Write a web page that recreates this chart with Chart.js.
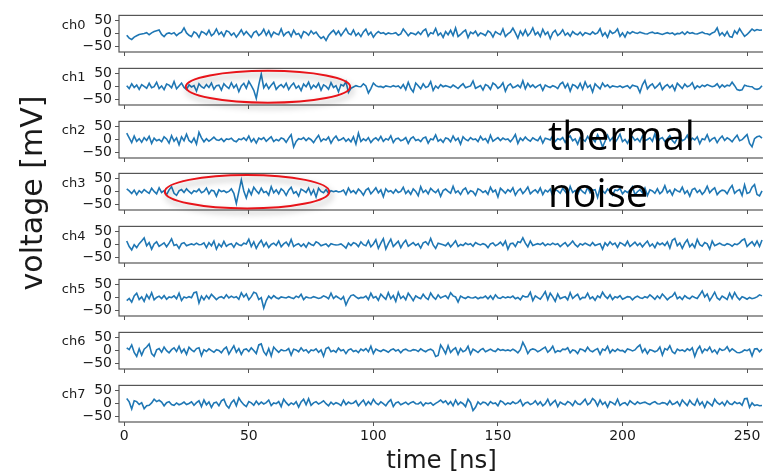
<!DOCTYPE html>
<html>
<head>
<meta charset="utf-8">
<script src="https://cdn.jsdelivr.net/npm/chart.js@4.4.1/dist/chart.umd.min.js"></script>
<style>
  html, body { margin: 0; padding: 0; background: #fff; overflow: hidden; }
  #wrap { position: relative; width: 763px; height: 474px; overflow: hidden; background: #fff; }
  canvas { position: absolute; left: 0; }
  .lbl { position: absolute; font-family: "DejaVu Sans", sans-serif; color: #1a1a1a; line-height: 1; white-space: nowrap; }
  .big { position: absolute; font-family: "Open Sans", sans-serif; color: #000; font-size: 40px; line-height: 1; white-space: nowrap; }
</style>
</head>
<body>
<div id="wrap"></div>
<script>
// ---------- data (mV), one sample per ns starting at t = 1 ns ----------
const channelNames = ['ch0', 'ch1', 'ch2', 'ch3', 'ch4', 'ch5', 'ch6', 'ch7'];

const ch0 = [
 -6,-17,-22,-13,-8,-3,-1,1,4,-4,3,8,11,14,-3,-11,
 0,3,-1,4,-7,1,6,22,3,-6,-11,7,1,-14,8,4,
 -4,13,-8,0,18,-3,6,-10,11,7,-6,3,-13,0,15,-4,
 8,-3,-14,4,10,-7,1,17,-6,11,-11,6,0,-4,18,-8,
 3,7,-10,13,-3,1,-15,8,4,-6,11,-1,6,-8,-18,-11,
 -26,-7,4,13,-3,10,-8,6,20,1,-4,14,-7,3,-11,7,
 17,-4,6,-13,0,8,1,4,-3,3,0,1,4,-6,-1,18,
 6,-8,3,1,-4,7,-3,11,18,-10,4,0,20,-6,3,-14,
 8,-4,13,-7,22,-11,-3,7,14,-15,6,0,10,-8,3,-1,
 -7,11,4,-13,8,1,-4,18,-11,-1,6,21,3,-17,10,-6,
 14,-8,3,22,-4,6,-11,17,-3,7,-19,4,13,-7,1,15,
 -6,3,-10,8,0,-4,6,-7,4,1,-3,7,-1,3,19,-8,
 4,-14,11,1,6,18,-10,3,-13,7,0,8,4,1,6,3,
 0,-1,4,6,1,3,0,-3,1,4,0,3,-4,1,0,6,
 -3,7,1,4,0,-1,3,6,1,0,-4,3,7,22,-6,4,
 -8,8,-11,-14,11,0,19,4,-10,-3,7,18,11,16,13,14
];
const ch1 = [
 4,-7,11,-3,6,-10,8,1,-6,13,-4,0,17,-7,3,-11,
 10,6,-4,20,-8,3,14,-3,-11,7,-1,4,-17,11,0,-6,
 8,-3,14,-10,4,6,-13,11,1,-7,15,-4,8,-19,3,13,
 -6,20,4,-14,-45,7,48,-4,11,-8,6,17,-10,1,8,-3,
 13,-11,4,14,-6,3,-15,10,0,17,-8,6,-3,13,-13,7,
 1,-10,15,-3,4,-19,8,3,19,-22,-6,-1,4,1,0,11,
 3,-24,-7,14,4,0,1,-3,3,1,-1,4,0,3,-6,8,
 -11,17,-7,-20,14,4,-8,11,-3,1,19,-14,3,-6,8,0,
 4,1,-3,6,0,-7,3,11,-4,0,3,22,-6,-1,4,-13,
 8,3,-10,14,7,-6,1,15,-17,4,11,-4,0,6,-3,23,
 -8,13,-1,7,-4,3,8,-14,6,1,-3,4,0,-7,10,17,
 -4,11,-17,8,4,-6,13,-10,18,-3,6,-20,11,1,-8,14,
 0,7,-4,3,1,-1,3,-3,1,4,-6,6,3,0,-22,7,
 24,-8,4,11,-6,3,14,-11,1,8,-4,6,-14,13,3,-7,
 10,0,4,15,-8,3,-3,6,1,8,4,0,3,11,-4,7,
 -1,6,3,17,4,-11,-14,-12,6,3,1,0,-8,-10,-7,4
];
const ch2 = [
 25,7,-11,14,-6,4,-10,8,-3,13,-14,6,-4,1,-8,11,
 3,-13,15,-6,7,-19,11,-4,21,-3,-11,6,-17,28,7,-8,
 4,-6,1,10,0,-3,4,-7,3,1,6,-4,-8,3,0,7,
 -3,14,-8,4,-13,6,1,8,-6,3,11,-7,1,-4,7,3,
 -10,6,19,-28,-7,4,1,8,-3,6,0,-11,4,17,-6,3,
 -1,10,-13,4,14,-3,1,7,-6,3,-8,11,-17,25,-7,3,
 -4,8,-11,1,7,-3,13,-6,4,-1,15,-11,3,6,-4,0,
 8,-14,4,11,-3,1,-7,6,10,-13,3,0,18,-6,1,-10,
 7,4,-8,14,-3,6,-17,11,1,-4,8,0,3,-7,13,-1,
 4,-11,17,-6,1,8,-3,6,0,3,-8,4,20,-14,6,-3,
 10,0,-6,7,1,-4,11,-13,6,3,-1,15,-7,4,0,8,
 -10,6,14,-4,3,-17,8,1,-6,13,-3,4,-8,19,0,-28,
 -6,17,-4,8,-11,3,21,-7,1,-14,6,11,-3,4,-8,14,
 -4,1,7,-6,23,-11,3,8,-7,4,15,-3,-13,6,10,-4,
 1,17,-8,6,-1,11,-15,4,0,19,-6,3,8,-11,4,14,
 -3,7,1,-8,6,17,-4,0,10,20,-14,-27,4,11,14,6
];
const ch3 = [
 11,3,-7,6,-11,4,-4,8,0,-6,13,1,-8,15,-3,4,
 -11,7,19,-6,-14,3,8,-3,11,1,-7,4,0,10,-4,1,
 14,-8,6,3,-17,7,0,4,-3,1,11,-6,-45,0,45,3,
 -24,8,-11,17,4,-7,13,-3,1,-13,19,-4,7,-8,11,3,
 -14,6,17,-6,0,-17,10,4,-3,14,-11,7,-20,13,1,-4,
 8,-6,4,0,3,-1,1,6,-11,14,-3,4,-7,10,1,-13,
 6,13,-8,3,15,-4,7,-19,11,0,4,-6,8,-3,1,17,
 -7,4,-10,11,1,-15,19,-3,6,-8,13,3,-4,8,-18,4,
 10,1,-6,21,-4,3,-11,7,14,-8,4,0,-14,11,6,-3,
 3,-10,17,-1,6,-20,13,4,-6,8,0,15,-13,3,11,-7,
 4,18,-8,1,7,-4,14,-11,6,-1,10,-17,8,3,-6,13,
 1,-14,20,-3,4,-10,11,0,-7,17,-4,6,8,-22,14,3,
 -6,10,1,-13,7,4,13,-8,3,-3,6,19,-11,0,8,-4,
 14,-15,7,3,-6,11,-8,1,23,-4,6,-13,10,3,-1,17,
 -7,4,-17,8,13,-3,6,-10,1,21,-4,7,15,-11,0,6,
 4,-8,11,24,-6,3,8,-14,26,-7,-3,17,27,-11,-16,3
];
const ch4 = [
 14,-7,-20,0,-11,4,14,26,-4,8,-17,3,11,-6,0,7,
 -8,6,22,-3,1,-14,4,8,-4,0,3,-1,6,0,1,7,
 -11,8,-4,14,-17,3,-8,13,-6,1,4,-10,7,0,-3,6,
 3,21,-7,11,-14,4,17,-6,8,-11,1,6,-3,14,-8,3,
 10,-4,20,-7,0,4,-6,3,-10,8,1,-3,11,6,-4,0,
 3,-7,4,1,-1,0,3,-4,-13,6,-3,8,4,-7,11,0,
 -4,15,-8,3,19,-14,6,23,-17,4,21,-7,3,13,-11,6,
 17,-6,1,8,-3,4,-13,7,11,0,24,-1,-14,6,3,0,
 -4,7,-8,3,15,-7,1,-3,6,0,4,-6,8,3,-1,4,
 0,-11,3,7,-4,1,10,-3,14,-17,4,6,-7,11,8,26,
 6,-8,14,-3,1,4,0,7,-4,3,-1,6,0,4,-7,1,
 8,-6,3,14,0,-8,4,-1,6,1,-4,8,-3,1,4,-17,
 7,-4,11,0,6,-10,8,3,-4,13,-7,1,10,-3,6,-8,
 4,14,-6,3,-11,8,0,6,-3,11,-13,17,24,-4,7,-14,
 6,19,-8,3,-11,20,0,-6,8,3,-17,14,-4,1,6,0,
 -3,4,1,-6,3,0,7,17,22,-7,3,11,-4,14,-7,18
];
const ch5 = [
 -11,-3,-17,7,17,-7,3,-14,11,-4,19,-8,1,6,-3,8,
 -6,3,0,7,-4,17,-11,3,-1,4,0,19,22,-20,6,-8,
 8,-4,13,3,-7,1,4,-3,11,-1,6,0,4,-6,19,3,
 14,-8,4,21,17,-7,0,-40,-11,6,-3,8,0,-4,3,1,
 -1,4,0,-3,6,1,13,-7,3,0,-1,4,1,-3,0,7,
 3,-4,17,-3,6,0,-7,4,-28,-6,8,11,3,-3,1,0,
 6,-7,17,-1,4,-10,13,3,-6,19,-4,8,-14,20,-3,6,
 -8,17,4,-11,7,1,-4,13,0,-7,18,3,-6,11,-1,4,
 8,-3,19,7,3,-17,6,1,-3,4,0,-1,3,-4,1,0,
 6,-4,7,-6,11,0,-3,4,-1,3,0,6,-4,1,-8,7,
 3,4,21,-11,7,0,-6,8,23,-7,17,3,-14,14,-4,1,
 4,-8,19,-3,6,13,-7,1,0,17,-4,3,-10,7,0,21,
 6,-3,11,-7,4,0,8,-6,-1,4,3,-8,1,6,0,-3,
 4,0,11,3,-6,7,-3,14,4,-8,1,6,19,-4,3,-7,
 8,0,-4,6,1,-3,11,26,3,14,-11,4,21,-1,-8,6,
 0,-7,17,-3,20,3,-8,4,0,-6,1,-4,-1,3,11,7
];
const ch6 = [
 11,4,22,-7,-22,7,-17,6,14,26,-11,-21,3,8,-6,14,
 0,-8,4,11,-3,17,-7,6,-14,13,3,-4,8,11,-19,4,
 -3,7,0,-6,4,1,-8,6,14,-13,3,19,-6,8,-14,4,
 7,-3,11,1,-11,22,26,-4,-17,8,-20,14,3,-6,4,0,
 1,8,-17,6,3,-4,11,-1,4,-8,3,0,7,-6,3,-21,
 8,13,-4,1,-6,10,0,4,-11,3,7,-3,1,-7,6,0,
 8,-4,17,-11,6,1,-3,4,0,-6,3,7,-1,4,-8,3,
 6,0,-1,4,3,-3,7,1,-4,3,6,0,-22,-18,22,7,
 -11,19,-7,4,11,-14,8,-4,1,17,-13,6,0,-7,3,8,
 -4,1,6,0,-3,7,1,4,0,3,-1,6,0,-8,4,32,
 14,-11,3,7,4,-4,1,8,14,-6,3,17,-7,0,-3,6,
 4,11,-8,3,0,-11,7,4,-3,13,0,-4,3,8,-14,6,
 1,17,-8,4,-3,6,0,1,-6,7,4,-1,3,14,22,-6,
 7,-11,4,1,-4,0,14,-17,8,3,19,-4,-11,6,0,3,
 -3,7,1,11,-22,4,17,-8,6,0,14,-6,3,-11,8,1,
 4,15,-3,7,0,-7,-8,-4,3,0,6,-20,7,8,-4,6
];
const ch7 = [
 20,7,-20,11,8,-3,4,-19,-8,-6,3,17,8,13,6,-8,
 4,8,-3,-6,3,-4,0,6,-3,1,7,-6,4,11,-11,14,
 -4,7,-14,3,6,-8,11,17,-6,-17,4,14,-8,22,7,-4,
 -11,8,3,-6,10,-3,6,-1,4,14,-7,3,0,8,-11,17,
 4,-6,3,-3,8,-13,7,17,-4,19,-6,3,8,-1,4,11,
 0,-8,6,-3,4,0,-7,13,-4,6,0,3,11,-8,4,14,
 -6,8,-3,17,3,-4,7,0,-8,6,15,-11,3,7,-4,1,
 6,-3,4,8,0,-1,6,-8,3,0,4,-6,1,7,14,4,
 11,-3,8,-8,14,-4,6,0,-11,17,4,-26,-14,7,-3,6,
 4,-6,8,0,3,-8,11,6,-4,3,-1,7,0,4,14,-8,
 3,6,-3,1,11,-4,7,-8,0,17,-6,4,13,-11,6,0,
 -4,8,3,-7,11,0,-3,6,17,-4,3,20,11,-8,14,-3,
 6,-13,8,3,-4,17,-7,1,4,-6,11,3,-3,7,0,4,
 6,1,-3,4,8,0,-1,4,3,-4,11,-3,1,8,-8,14,
 3,-7,13,0,-6,17,-4,7,-14,8,0,-8,17,4,-3,6,
 -7,11,0,-3,7,0,4,-6,19,20,-14,3,-7,-4,-8,-7
];
const seriesValues = [ch0, ch1, ch2, ch3, ch4, ch5, ch6, ch7];

const firstSampleNs = 1;          // first sample time
const sampleStepNs = 1;           // sampling period
const xTickLabels = [0, 50, 100, 150, 200, 250];
const yTickLabels = [-50, 0, 50];
const xLabel = 'time [ns]';
const yLabel = 'voltage [mV]';
const noteLines = ['thermal', 'noise'];

// annotation ellipses in data units: [channel, centre time, centre mV, half-width ns, half-height mV]
const highlightEllipses = [
  ['ch1', 57.7, 0, 33, 61],
  ['ch3', 49.3, 0, 33, 64]
];

// ---------- layout ----------
const X_MIN = -2.1, X_MAX = 257.2, Y_MIN = -70, Y_MAX = 70;
const PLOT_LEFT = 119, PLOT_RIGHT = 764;
const ZERO0 = 30, PITCH = 52.8, PANEL_H = 44;
const PAD_TOP = 4;
const AXIS_COLOR = '#555';
const TICK_FONT = { family: 'DejaVu Sans', size: 14 };

const wrap = document.getElementById('wrap');

const framePlugin = {
  id: 'frame',
  afterDatasetsDraw(chart, args, opts) {
    const { ctx, chartArea: a, scales } = chart;
    ctx.save();
    ctx.strokeStyle = AXIS_COLOR;
    ctx.lineWidth = 1.2;
    ctx.strokeRect(a.left, a.top, a.right - a.left, a.bottom - a.top);
    ctx.restore();
    (opts.ellipses || []).forEach(e => {
      const cx = scales.x.getPixelForValue(e[1]);
      const rx = scales.x.getPixelForValue(e[1] + e[3]) - cx;
      const cy = scales.y.getPixelForValue(e[2]);
      const ry = cy - scales.y.getPixelForValue(e[2] + e[4]);
      ctx.save();
      ctx.shadowColor = 'rgba(0,0,0,0.35)';
      ctx.shadowBlur = 6;
      ctx.shadowOffsetX = 2;
      ctx.shadowOffsetY = 4;
      ctx.strokeStyle = '#e8141a';
      ctx.lineWidth = 2;
      ctx.beginPath();
      ctx.ellipse(cx, cy, rx, ry, 0, 0, Math.PI * 2);
      ctx.stroke();
      ctx.restore();
    });
  }
};

seriesValues.forEach((vals, i) => {
  const last = i === seriesValues.length - 1;
  const zero = ZERO0 + PITCH * i;
  const areaTop = Math.round(zero - PANEL_H / 2);
  const xAxisH = last ? 24 : 6;
  const padBottom = last ? 4 : 10;
  const canvas = document.createElement('canvas');
  canvas.width = PLOT_RIGHT + 1;
  canvas.height = PAD_TOP + PANEL_H + xAxisH + padBottom;
  canvas.style.top = (areaTop - PAD_TOP) + 'px';
  wrap.appendChild(canvas);

  const points = vals.map((v, k) => ({ x: firstSampleNs + k * sampleStepNs, y: v }));
  const ells = highlightEllipses.filter(e => e[0] === channelNames[i]);

  new Chart(canvas.getContext('2d'), {
    type: 'line',
    data: {
      datasets: [{
        data: points,
        borderColor: '#1f77b4',
        borderWidth: 1.6,
        pointRadius: 0,
        tension: 0,
        fill: false
      }]
    },
    options: {
      responsive: false,
      animation: false,
      devicePixelRatio: 1,
      events: [],
      layout: { autoPadding: false, padding: { left: 0, right: 0, top: PAD_TOP, bottom: padBottom } },
      plugins: { legend: { display: false }, tooltip: { enabled: false }, frame: { ellipses: ells } },
      scales: {
        x: {
          type: 'linear',
          min: X_MIN, max: X_MAX,
          afterBuildTicks: s => { s.ticks = xTickLabels.map(v => ({ value: v })); },
          afterFit: s => { s.height = xAxisH; },
          border: { display: false },
          grid: { drawOnChartArea: false, drawTicks: true, tickLength: 4, color: AXIS_COLOR, lineWidth: 1 },
          ticks: { display: last, font: TICK_FONT, color: '#1a1a1a', padding: 2, maxRotation: 0, autoSkip: false,
                   callback: v => String(v) }
        },
        y: {
          type: 'linear',
          min: Y_MIN, max: Y_MAX,
          afterBuildTicks: s => { s.ticks = yTickLabels.map(v => ({ value: v })); },
          afterFit: s => { s.width = PLOT_LEFT; },
          border: { display: false },
          grid: { drawOnChartArea: false, drawTicks: true, tickLength: 4, color: AXIS_COLOR, lineWidth: 1 },
          ticks: { font: TICK_FONT, color: '#1a1a1a', padding: 3, autoSkip: false,
                   callback: v => String(v).replace('-', '\u2212') }
        }
      }
    },
    plugins: [framePlugin]
  });

  const lab = document.createElement('div');
  lab.className = 'lbl';
  lab.textContent = channelNames[i];
  lab.style.fontSize = '13px';
  lab.style.width = '60px';
  lab.style.textAlign = 'right';
  lab.style.left = (85.5 - 60) + 'px';
  lab.style.top = (zero - 6 - 6.5) + 'px';
  wrap.appendChild(lab);
});

// axis titles
const xl = document.createElement('div');
xl.className = 'lbl';
xl.textContent = xLabel;
xl.style.fontSize = '24.5px';
xl.style.width = '300px';
xl.style.textAlign = 'center';
xl.style.left = (441.5 - 150) + 'px';
xl.style.top = (460 - 12.25) + 'px';
wrap.appendChild(xl);

const yl = document.createElement('div');
yl.className = 'lbl';
yl.textContent = yLabel;
yl.style.fontSize = '30px';
yl.style.width = '300px';
yl.style.height = '30px';
yl.style.textAlign = 'center';
yl.style.left = (32 - 150) + 'px';
yl.style.top = (193 - 15) + 'px';
yl.style.transform = 'rotate(-90deg)';
yl.style.transformOrigin = '50% 50%';
wrap.appendChild(yl);

// note text
noteLines.forEach((txt, k) => {
  const d = document.createElement('div');
  d.className = 'big';
  d.textContent = txt;
  d.style.left = '548px';
  d.style.top = (114.5 + 57 * k) + 'px';
  wrap.appendChild(d);
});
</script>
</body>
</html>
